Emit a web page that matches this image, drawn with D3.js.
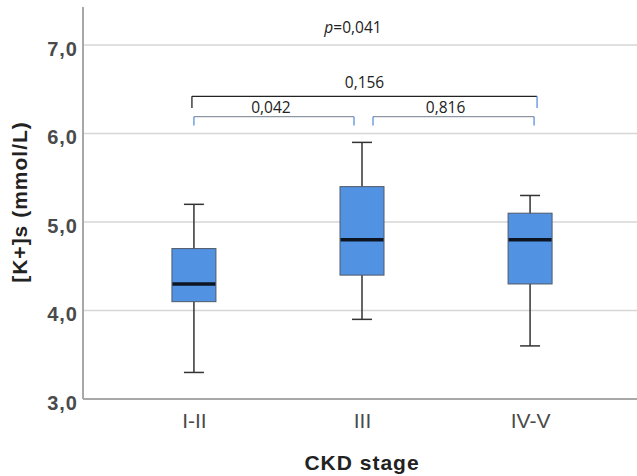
<!DOCTYPE html>
<html lang="en">
<head>
    <meta charset="UTF-8">
    <title>[K+]s by CKD stage</title>
    <script src="https://d3js.org/d3.v7.min.js"></script>
    <style>
        body {
            margin: 0;
            background: #fff;
            overflow: hidden;
        }
        .tick-y {
            font-family: "Liberation Sans", Arial, sans-serif;
            font-size: 20px;
            font-weight: bold;
            letter-spacing: 1px;
            fill: #4a4a4a;
        }
        .tick-x {
            font-family: "Liberation Sans", Arial, sans-serif;
            font-size: 21px;
            fill: #4a4a4a;
        }
        .axis-title {
            font-family: "Liberation Sans", Arial, sans-serif;
            font-size: 21px;
            font-weight: bold;
            letter-spacing: 1px;
            fill: #222;
        }
        .p-label {
            font-family: "Open Sans", sans-serif;
            font-size: 15.5px;
            fill: #222;
        }
    </style>
</head>
<body>
    <script>
        // dati
        const categories = ["I-II", "III", "IV-V"];
        const whiskerLow = [3.3, 3.9, 3.6];
        const q1 = [4.1, 4.4, 4.3];
        const median = [4.3, 4.8, 4.8];
        const q3 = [4.7, 5.4, 5.1];
        const whiskerHigh = [5.2, 5.9, 5.3];
        const yTicks = [3, 4, 5, 6, 7];
        const yTickLabels = ["3,0", "4,0", "5,0", "6,0", "7,0"];
        const comparisonFrom = ["I-II", "I-II", "III"];
        const comparisonTo = ["IV-V", "III", "IV-V"];
        const comparisonP = ["0,156", "0,042", "0,816"];
        const overallP = "0,041";

        const width = 637, height = 476;
        const plotLeft = 83, plotBottom = 399, plotTop = 7;

        const svg = d3.select("body").append("svg")
            .attr("width", width)
            .attr("height", height);

        const x = d3.scalePoint()
            .domain(categories)
            .range([plotLeft, 641])
            .padding(0.66);

        const y = d3.scaleLinear()
            .domain([3, 7.43])
            .range([plotBottom, plotTop]);

        // griglia orizzontale
        svg.append("g")
            .selectAll("line")
            .data(yTicks.slice(1))
            .enter().append("line")
            .attr("x1", plotLeft).attr("x2", width)
            .attr("y1", d => y(d)).attr("y2", d => y(d))
            .attr("stroke", "#d6d6d6")
            .attr("stroke-width", 1.5);

        // asse y con etichette
        const yAxis = svg.append("g")
            .attr("transform", `translate(${plotLeft},0)`)
            .call(d3.axisLeft(y).tickValues(yTicks).tickFormat((d, i) => yTickLabels[i]).tickSize(0).tickPadding(5));
        yAxis.select(".domain").remove();
        yAxis.selectAll("text").attr("class", "tick-y").attr("dy", "0.5em");
        yAxis.attr("font-size", null).attr("font-family", null);

        // asse x con etichette
        const xAxis = svg.append("g")
            .attr("transform", `translate(0,${plotBottom})`)
            .call(d3.axisBottom(x).tickSize(0).tickPadding(14));
        xAxis.select(".domain").remove();
        xAxis.selectAll("text").attr("class", "tick-x");
        xAxis.attr("font-size", null).attr("font-family", null);

        // linee degli assi
        svg.append("line")
            .attr("x1", plotLeft).attr("x2", plotLeft)
            .attr("y1", plotTop).attr("y2", plotBottom)
            .attr("stroke", "#a8a8a8").attr("stroke-width", 2);
        svg.append("line")
            .attr("x1", plotLeft).attr("x2", width)
            .attr("y1", plotBottom).attr("y2", plotBottom)
            .attr("stroke", "#a8a8a8").attr("stroke-width", 2);

        // box plot
        const boxWidth = 44, capWidth = 20;
        const boxes = categories.map((c, i) => ({
            c: c, lo: whiskerLow[i], q1: q1[i], med: median[i], q3: q3[i], hi: whiskerHigh[i]
        }));

        const g = svg.append("g")
            .selectAll("g")
            .data(boxes)
            .enter().append("g");

        g.append("line")
            .attr("x1", d => x(d.c)).attr("x2", d => x(d.c))
            .attr("y1", d => y(d.hi)).attr("y2", d => y(d.lo))
            .attr("stroke", "#333").attr("stroke-width", 1.5);

        g.selectAll(".cap")
            .data(d => [d.lo, d.hi].map(v => ({ c: d.c, v: v })))
            .enter().append("line")
            .attr("x1", d => x(d.c) - capWidth / 2).attr("x2", d => x(d.c) + capWidth / 2)
            .attr("y1", d => y(d.v)).attr("y2", d => y(d.v))
            .attr("stroke", "#333").attr("stroke-width", 1.5);

        g.append("rect")
            .attr("x", d => x(d.c) - boxWidth / 2)
            .attr("width", boxWidth)
            .attr("y", d => y(d.q3))
            .attr("height", d => y(d.q1) - y(d.q3))
            .attr("fill", "#5292e3")
            .attr("stroke", "#505a66")
            .attr("stroke-width", 1);

        g.append("line")
            .attr("x1", d => x(d.c) - boxWidth / 2 + 0.5).attr("x2", d => x(d.c) + boxWidth / 2 - 0.5)
            .attr("y1", d => y(d.med)).attr("y2", d => y(d.med))
            .attr("stroke", "#0d1522").attr("stroke-width", 3.5);

        // parentesi dei confronti a coppie
        const bracketLevel = [6.42, 6.19, 6.19];
        const bracketDrop = [0.13, 0.1, 0.1];
        const bracketInset = [[-2, 7], [0, -8], [11, 4]];
        const bracketLine = ["#222", "#8f96a3", "#8f96a3"];
        const bracketTicks = [["#222", "#5b8fdc"], ["#5b8fdc", "#5b8fdc"], ["#5b8fdc", "#5b8fdc"]];
        const labelLevel = [6.58, 6.29, 6.29];
        const labelShift = [0, -3, -8];

        const brackets = comparisonFrom.map((f, i) => ({
            x1: x(f) + bracketInset[i][0],
            x2: x(comparisonTo[i]) + bracketInset[i][1],
            yTop: y(bracketLevel[i]),
            yEnd: y(bracketLevel[i] - bracketDrop[i]),
            i: i
        }));

        const bg = svg.append("g").selectAll("g").data(brackets).enter().append("g");
        bg.append("line")
            .attr("x1", d => d.x1).attr("x2", d => d.x2)
            .attr("y1", d => d.yTop).attr("y2", d => d.yTop)
            .attr("stroke", d => bracketLine[d.i]).attr("stroke-width", 1.3);
        bg.append("line")
            .attr("x1", d => d.x1).attr("x2", d => d.x1)
            .attr("y1", d => d.yTop).attr("y2", d => d.yEnd)
            .attr("stroke", d => bracketTicks[d.i][0]).attr("stroke-width", 1.3);
        bg.append("line")
            .attr("x1", d => d.x2).attr("x2", d => d.x2)
            .attr("y1", d => d.yTop).attr("y2", d => d.yEnd)
            .attr("stroke", d => bracketTicks[d.i][1]).attr("stroke-width", 1.3);
        bg.append("text")
            .attr("class", "p-label")
            .attr("x", d => (d.x1 + d.x2) / 2 + labelShift[d.i])
            .attr("y", d => y(labelLevel[d.i]))
            .attr("text-anchor", "middle")
            .attr("dy", "0.35em")
            .text(d => comparisonP[d.i]);

        // p globale
        const pText = svg.append("text")
            .attr("class", "p-label")
            .attr("x", x("III") - 9)
            .attr("y", y(7.2))
            .attr("dy", "0.35em")
            .attr("text-anchor", "middle");
        pText.append("tspan").attr("font-style", "italic").text("p");
        pText.append("tspan").text("=" + overallP);

        // titoli degli assi
        svg.append("text")
            .attr("class", "axis-title")
            .attr("transform", "translate(27,202) rotate(-90)")
            .attr("text-anchor", "middle")
            .text("[K+]s (mmol/L)");

        svg.append("text")
            .attr("class", "axis-title")
            .attr("x", x("III"))
            .attr("y", 470)
            .attr("text-anchor", "middle")
            .text("CKD stage");
    </script>
</body>
</html>
